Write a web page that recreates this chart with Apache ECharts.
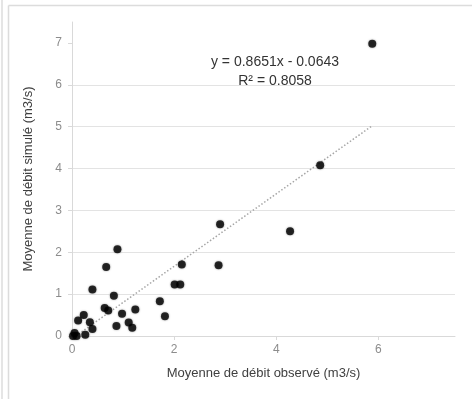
<!DOCTYPE html>
<html>
<head>
<meta charset="utf-8">
<script src="https://cdn.jsdelivr.net/npm/echarts@6/dist/echarts.min.js"></script>
<style>html,body{margin:0;padding:0;background:#fff}#c{width:472px;height:399px}</style>
</head>
<body>
<div id="c"></div>
<script>
const observed = [5.88, 4.86, 4.27, 2.90, 2.87, 2.15, 2.01, 2.12, 1.72, 1.82, 1.24, 1.11, 1.18, 0.98, 0.87, 0.89, 0.82, 0.67, 0.64, 0.71, 0.40, 0.40, 0.35, 0.23, 0.12, 0.26, 0.09, 0.05, 0.02];
const simulated = [6.98, 4.08, 2.50, 2.67, 1.69, 1.71, 1.23, 1.23, 0.83, 0.47, 0.63, 0.32, 0.20, 0.53, 0.24, 2.07, 0.96, 1.65, 0.67, 0.61, 1.11, 0.17, 0.33, 0.50, 0.37, 0.03, 0.00, 0.07, 0.00];
const trendSlope = 0.8651;
const trendIntercept = -0.0643;
const trendR2 = 0.8058;
const xTicks = [0, 2, 4, 6];
const yTicks = [0, 1, 2, 3, 4, 5, 6, 7];
const xTitle = 'Moyenne de débit observé (m3/s)';
const yTitle = 'Moyenne de débit simulé (m3/s)';

const points = observed.map((x, i) => [x, simulated[i]]);
const xStart = Math.max(Math.min(...observed), -trendIntercept / trendSlope);
const xEnd = Math.max(...observed);
const trend = [[xStart, trendSlope * xStart + trendIntercept], [xEnd, trendSlope * xEnd + trendIntercept]];
const eqText = 'y = ' + trendSlope.toFixed(4) + 'x - ' + Math.abs(trendIntercept).toFixed(4) + '\nR² = ' + trendR2.toFixed(4);

const font = 'Liberation Sans';
const chart = echarts.init(document.getElementById('c'), null, {renderer: 'canvas'});
chart.setOption({
  animation: false,
  backgroundColor: '#fff',
  grid: {left: 72, right: 17, top: 22, bottom: 63, containLabel: false},
  xAxis: {
    type: 'value', min: 0, max: 7.5, interval: 2,
    name: xTitle, nameLocation: 'middle', nameGap: 31,
    nameTextStyle: {fontFamily: font, fontSize: 13, color: '#404040'},
    axisLine: {show: true, onZero: false, lineStyle: {color: '#d9d9d9', width: 1}},
    axisTick: {show: true, length: 4, customValues: xTicks, lineStyle: {color: '#d9d9d9'}},
    axisLabel: {customValues: xTicks, fontFamily: font, fontSize: 12, color: '#8c8c8c', margin: 8},
    splitLine: {show: false}
  },
  yAxis: {
    type: 'value', min: 0, max: 7.5, interval: 1,
    name: yTitle, nameLocation: 'middle', nameGap: 37, nameRotate: 90,
    nameTextStyle: {fontFamily: font, fontSize: 13, color: '#404040'},
    axisLine: {show: true, lineStyle: {color: '#d9d9d9', width: 1}},
    axisTick: {show: true, length: 4, customValues: yTicks, lineStyle: {color: '#d9d9d9'}},
    axisLabel: {customValues: yTicks, fontFamily: font, fontSize: 12, color: '#8c8c8c', margin: 10},
    splitLine: {show: true, showMaxLine: false, lineStyle: {color: '#e3e3e3', width: 1}}
  },
  series: [
    {
      type: 'line', data: trend, symbol: 'none', silent: true, z: 1,
      lineStyle: {color: '#a6a6a6', width: 1.5, type: [1.5, 2]}
    },
    {
      type: 'scatter', data: points, symbol: 'circle', symbolSize: 8, z: 2,
      itemStyle: {color: '#000', shadowBlur: 2, shadowColor: 'rgba(0,0,0,0.5)'}
    }
  ],
  graphic: [
    {type: 'line', shape: {x1: 2, y1: 0, x2: 2, y2: 399}, style: {stroke: '#dcdcdc', lineWidth: 1.5}, silent: true},
    {type: 'line', shape: {x1: 8.5, y1: 5.5, x2: 472, y2: 5.5}, style: {stroke: '#dcdcdc', lineWidth: 1.5}, silent: true},
    {type: 'line', shape: {x1: 8.5, y1: 5.5, x2: 8.5, y2: 399}, style: {stroke: '#dcdcdc', lineWidth: 1.5}, silent: true},
    {type: 'text', x: 275, y: 53, style: {text: eqText, fontFamily: font, fontSize: 14, fill: '#333', align: 'center', verticalAlign: 'top', lineHeight: 19}, silent: true}
  ]
});
</script>
</body>
</html>
